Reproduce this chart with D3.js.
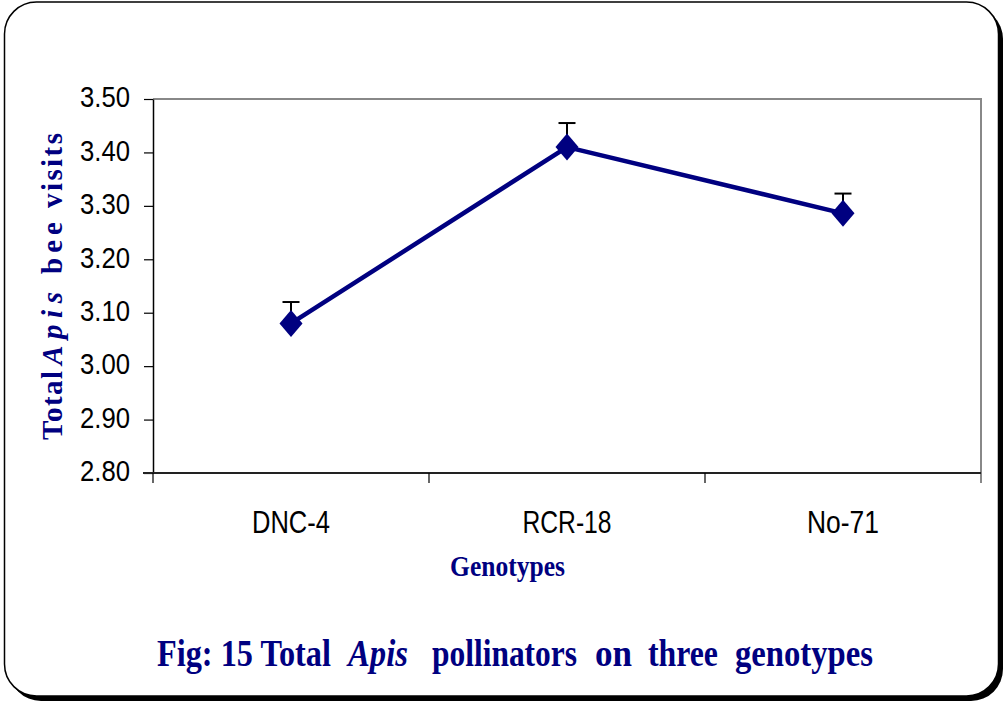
<!DOCTYPE html>
<html>
  <head>
    <script src="https://cdn.jsdelivr.net/npm/d3@7"></script>
    <style type="text/css">
      body {
        margin: 0;
        background: #fff;
      }
      .tick text, .cat {
        font-family: "Liberation Sans", Arial, sans-serif;
        fill: #000;
      }
      .navy {
        font-family: "Liberation Serif", "Times New Roman", serif;
        font-weight: bold;
        fill: #000080;
      }
    </style>
  </head>
  <body>
    <script type="text/javascript">
      // data
      var genotypes = ["DNC-4", "RCR-18", "No-71"];
      var visits = [3.08, 3.41, 3.286];
      var errors = [0.04, 0.045, 0.037];
      var yTicks = [2.80, 2.90, 3.00, 3.10, 3.20, 3.30, 3.40, 3.50];

      var w = 1006, h = 706;
      var plot = { left: 153, right: 981, top: 99, bottom: 473 };
      var navy = "#000080";
      var catWidth = { "DNC-4": 78, "RCR-18": 89, "No-71": 72 };

      var svg = d3.select("body").append("svg")
          .attr("width", w)
          .attr("height", h);

      // squeeze a text horizontally so it spans width px, starting at x
      function fitText(sel, x, y, width) {
        var len = sel.node().getComputedTextLength();
        sel.attr("transform", "translate(" + x + "," + y + ") scale(" + (width / len) + ",1)");
      }

      // rounded frame with a drop shadow on right and bottom
      svg.append("rect")
          .attr("x", 9).attr("y", 7)
          .attr("width", 994).attr("height", 694)
          .attr("rx", 32)
          .attr("fill", "#000");
      svg.append("rect")
          .attr("x", 4.5).attr("y", 2)
          .attr("width", 994).attr("height", 694)
          .attr("rx", 32)
          .attr("fill", "#fff")
          .attr("stroke", "#000")
          .attr("stroke-width", 1.5);

      var xScale = d3.scaleBand()
          .domain(genotypes)
          .range([plot.left, plot.right]);

      var yScale = d3.scaleLinear()
          .domain([2.8, 3.5])
          .range([plot.bottom, plot.top]);

      // gray plot border (top and right)
      svg.append("path")
          .attr("d", "M" + plot.left + "," + yScale(3.5) + "H" + plot.right + "V" + (plot.bottom + 10))
          .attr("fill", "none")
          .attr("stroke", "#888")
          .attr("stroke-width", 2);

      // y axis
      var yAxis = d3.axisLeft(yScale)
          .tickValues(yTicks)
          .tickFormat(d3.format(".2f"))
          .tickSize(9)
          .tickSizeOuter(0)
          .tickPadding(14);

      var gy = svg.append("g")
          .attr("transform", "translate(" + plot.left + ",0)")
          .call(yAxis);
      gy.select(".domain").attr("stroke", "#000").attr("stroke-width", 1.5);
      gy.selectAll(".tick line").attr("stroke", "#000").attr("stroke-width", 1.2);
      gy.selectAll(".tick text")
          .attr("font-size", 29)
          .attr("dy", "0.27em")
          .attr("textLength", 50)
          .attr("lengthAdjust", "spacingAndGlyphs");

      // x axis: line, ticks on category boundaries, labels at centres
      var gx = svg.append("g");
      gx.append("line")
          .attr("x1", plot.left - 10).attr("x2", plot.right)
          .attr("y1", plot.bottom).attr("y2", plot.bottom)
          .attr("stroke", "#222").attr("stroke-width", 2);
      var bounds = genotypes.map(function (d) { return xScale(d); });
      gx.selectAll("line.tk")
          .data(bounds)
          .enter().append("line")
          .attr("class", "tk")
          .attr("x1", function (d) { return d; }).attr("x2", function (d) { return d; })
          .attr("y1", plot.bottom).attr("y2", plot.bottom + 10)
          .attr("stroke", "#000").attr("stroke-width", 1.2);
      gx.selectAll("text.cat")
          .data(genotypes)
          .enter().append("text")
          .attr("class", "cat")
          .attr("x", function (d) { return xScale(d) + xScale.bandwidth() / 2; })
          .attr("y", 533)
          .attr("text-anchor", "middle")
          .attr("font-size", 31)
          .attr("textLength", function (d) { return catWidth[d]; })
          .attr("lengthAdjust", "spacingAndGlyphs")
          .text(function (d) { return d; });

      var cx = function (d, i) { return xScale(genotypes[i]) + xScale.bandwidth() / 2; };

      // error bars (upper only)
      var eb = svg.append("g").attr("stroke", "#000").attr("stroke-width", 2);
      eb.selectAll("line.v")
          .data(visits)
          .enter().append("line")
          .attr("x1", cx).attr("x2", cx)
          .attr("y1", function (d) { return yScale(d); })
          .attr("y2", function (d, i) { return yScale(d + errors[i]); });
      eb.selectAll("line.c")
          .data(visits)
          .enter().append("line")
          .attr("x1", function (d, i) { return cx(d, i) - 8.5; })
          .attr("x2", function (d, i) { return cx(d, i) + 8.5; })
          .attr("y1", function (d, i) { return yScale(d + errors[i]); })
          .attr("y2", function (d, i) { return yScale(d + errors[i]); });

      // series line
      var line = d3.line()
          .x(function (d, i) { return cx(d, i); })
          .y(function (d) { return yScale(d); });
      svg.append("path")
          .datum(visits)
          .attr("d", line)
          .attr("fill", "none")
          .attr("stroke", navy)
          .attr("stroke-width", 4.5)
          .attr("stroke-linejoin", "round");

      // diamond markers
      svg.selectAll("path.mk")
          .data(visits)
          .enter().append("path")
          .attr("class", "mk")
          .attr("transform", function (d, i) { return "translate(" + cx(d, i) + "," + yScale(d) + ")"; })
          .attr("d", "M0,-13.5L11.5,0L0,13.5L-11.5,0Z")
          .attr("fill", navy);

      // x axis title
      var gt = svg.append("text")
          .attr("class", "navy")
          .attr("font-size", 29)
          .text("Genotypes");
      fitText(gt, 450, 576, 115);

      // y axis title, letter spaced
      var yTitle = [
        { t: "Total", s: 440, e: 371, it: false },
        { t: "Apis", s: 365, e: 292, it: true },
        { t: "bee", s: 274, e: 222, it: false },
        { t: "visits", s: 208, e: 133, it: false }
      ];
      svg.selectAll("text.yt")
          .data(yTitle)
          .enter().append("text")
          .attr("class", "navy yt")
          .attr("transform", function (d) { return "translate(62," + d.s + ") rotate(-90)"; })
          .attr("font-size", 29)
          .attr("font-style", function (d) { return d.it ? "italic" : "normal"; })
          .attr("textLength", function (d) { return d.s - d.e; })
          .attr("lengthAdjust", "spacing")
          .text(function (d) { return d.t; });

      // figure caption
      var caption = [
        { t: "Fig: 15 Total", a: 157, b: 331, it: false },
        { t: "Apis", a: 348, b: 408, it: true },
        { t: "pollinators", a: 432, b: 577, it: false },
        { t: "on", a: 595, b: 632, it: false },
        { t: "three", a: 648, b: 718, it: false },
        { t: "genotypes", a: 735, b: 873, it: false }
      ];
      caption.forEach(function (c) {
        var t = svg.append("text")
            .attr("class", "navy")
            .attr("font-size", 37)
            .attr("font-style", c.it ? "italic" : "normal")
            .text(c.t);
        fitText(t, c.a, 666, c.b - c.a);
      });
    </script>
  </body>
</html>
